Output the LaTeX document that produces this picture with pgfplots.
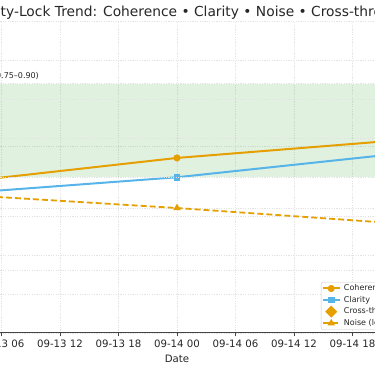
\documentclass[border=0pt]{standalone}
\usepackage{pgfplots}
\pgfplotsset{compat=1.18}
\usepackage{fontspec}
\setmainfont{DejaVu Sans}
\definecolor{cohc}{HTML}{E69F00}
\definecolor{clac}{HTML}{56B4E9}
\definecolor{bandc}{RGB}{44,160,44}
\definecolor{txt}{HTML}{262626}
\definecolor{gridc}{HTML}{E3E3E3}
\definecolor{spine}{HTML}{444444}

\pgfplotstableread{
x y
0 0.739
24 0.781
48 0.811
}\coherence
\pgfplotstableread{
x y
0 0.722
24 0.750
48 0.790
}\clarity
\pgfplotstableread{
x y
0 0.179
24 0.1605
48 0.1395
}\noise

\begin{document}
\begin{tikzpicture}[trim left=0pt, trim right=375pt]
\path (0pt,0pt) rectangle (375pt,366pt);
\pgfplotsset{
  common/.style={
    scale only axis, width=507pt, height=311.5pt,
    at={(-76.5pt,33pt)}, anchor=south west,
    xmin=-2, xmax=50,
    scaled y ticks=false,
    grid style={dash pattern=on 1.2pt off 1.2pt, gridc, line width=0.6pt},
    tick label style={font=\fontsize{10.2}{12}\selectfont, text=txt},
  }
}
\begin{axis}[common,
  ymin=0.5, ymax=1.0, ytick={0.5,0.6,0.7,0.8,0.9,1.0},
  yticklabels={0.5,0.6,0.7,0.8,0.9,1.0},
  axis x line*=bottom, axis y line*=left,
  axis line style={-, spine, line width=1pt},
  xtick={0,6,...,48},
  xticklabels={09-13 00,09-13 06,09-13 12,09-13 18,09-14 00,09-14 06,09-14 12,09-14 18,09-15 00},
  tick align=outside, major tick length=3.5pt,
  xtick style={spine, line width=0.8pt},
  grid=major,
  xlabel={Date},
  xlabel style={font=\fontsize{10.2}{12}\selectfont, text=txt},
]
\addplot[draw=none, fill=bandc, fill opacity=0.15, forget plot] coordinates {(-2,0.75) (50,0.75) (50,0.90) (-2,0.90)} -- cycle;
\addplot[cohc, line width=2pt, mark=*, mark size=2.5pt] table {\coherence};
\addplot[clac, line width=2pt, mark=square*, mark size=2.3pt] table {\clarity};
\end{axis}
\begin{axis}[common,
  ymin=0, ymax=0.4, ytick={0.05,0.1,0.15,0.2,0.25,0.3,0.35},
  yticklabels={0.05,0.10,0.15,0.20,0.25,0.30,0.35},
  axis y line*=right, axis x line=none,
  axis line style={-, spine, line width=1pt},
  ymajorgrids,
  legend cell align=left,
  legend style={at={(0.784,0.1637)}, anchor=north west, draw=black!22, rounded corners=2pt,
    fill=white, font=\fontsize{8}{9.5}\selectfont, text=txt, nodes={inner xsep=3.2pt, inner ysep=2pt}, inner sep=0.5pt},
]
\addlegendimage{cohc, line width=2pt, mark=*, mark size=2.5pt}
\addlegendentry{Coherence}
\addlegendimage{clac, line width=2pt, mark=square*, mark size=2.3pt}
\addlegendentry{Clarity}
\addlegendimage{only marks, cohc, mark=square*, mark size=4pt, mark options={rotate=45}}
\addlegendentry{Cross-threshold}
\addplot[cohc, line width=1.8pt, dash pattern=on 6pt off 3pt, mark=triangle*, mark size=2.6pt, mark options={solid}] table {\noise};
\addlegendentry{Noise (lower is better)}
\end{axis}
\node[anchor=base west, inner sep=0, font=\fontsize{13.8}{16}\selectfont, text=txt] at (0.5pt,349pt) {\llap{Clari}ty-Lock Trend: Coherence • Clarity • Noise • Cross-threshold Events};
\node[anchor=base west, inner sep=0, font=\fontsize{8}{10}\selectfont, text=txt] at (1pt,287.5pt) {\llap{Clarity-lock band (0}.75–0.90)};
\end{tikzpicture}
\end{document}
